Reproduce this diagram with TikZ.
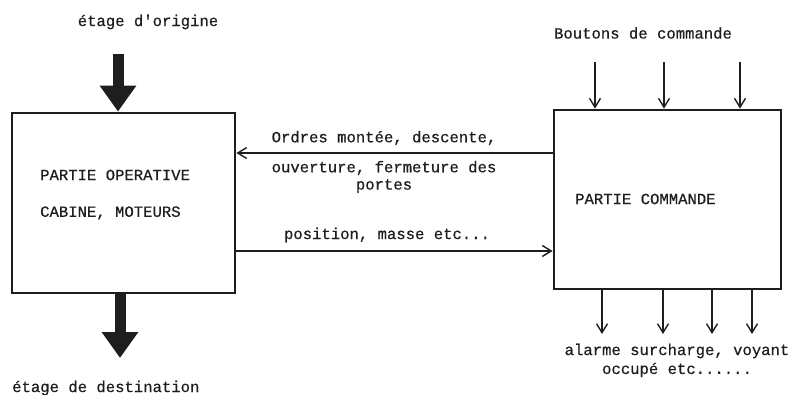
\documentclass[tikz,border=0pt]{standalone}
\usepackage{fontspec}
\setmonofont[BoldFont={Liberation Mono},BoldFeatures={FakeBold=0.5}]{Liberation Mono}
\usetikzlibrary{arrows.meta}
\definecolor{ink}{HTML}{1E1E1E}
\tikzset{
  txt/.style={font=\ttfamily\bfseries\fontsize{15.6}{18}\selectfont, text=ink, inner sep=0pt},
  box/.style={draw=ink, line width=2.8pt, fill=none, inner sep=0pt},
  thinarrow/.style={draw=ink, line width=1.4pt, -{Straight Barb[length=9pt,width=11pt,line width=1.4pt]}},
  fatarrow/.style={draw=ink, line width=11pt, -{Triangle[length=26pt,width=35pt]}},
}
\begin{document}
\begin{tikzpicture}[x=1pt,y=-1pt]
\useasboundingbox[fill=white] (0,0) rectangle (795,394);
% boxes
\node[box, minimum width=223pt, minimum height=180pt] (op) at (123.5,203) {};
\node[box, minimum width=227pt, minimum height=179pt] (cmd) at (667.5,199.5) {};
% box texts
\node[txt, anchor=west] (op1) at (40,175) {PARTIE OPERATIVE};
\node[txt, anchor=west] (op2) at (40,213) {CABINE, MOTEURS};
\node[txt, anchor=west] (cmd1) at (575,199) {PARTIE COMMANDE};
% outside labels
\node[txt] (orig) at (148,22) {étage d'origine};
\node[txt, anchor=west] (dest) at (12,388) {étage de destination};
\node[txt] (bout) at (643,33) {Boutons de commande};
\node[txt] (al1) at (677,351) {alarme surcharge, voyant};
\node[txt] (al2) at (677,370) {occupé etc......};
\node[txt] (ord1) at (384,138) {Ordres montée, descente,};
\node[txt] (ord2) at (384,168) {ouverture, fermeture des};
\node[txt] (ord3) at (384,186) {portes};
\node[txt] (pos) at (387,235) {position, masse etc...};
% fat arrows
\coordinate (origtop) at (118,54);
\draw[fatarrow] (origtop) -- (origtop |- op.north);
\coordinate (destend) at (120,358);
\draw[fatarrow] (destend |- op.south) -- (destend);
% middle arrows
\coordinate (yord) at (0,153);
\coordinate (ypos) at (0,251);
\draw[thinarrow] (cmd.west |- yord) -- (op.east |- yord);
\draw[thinarrow] (op.east |- ypos) -- (cmd.west |- ypos);
% command buttons
\foreach \x/\n in {595/b1,664/b2,740/b3}{
  \coordinate (\n) at (\x,62);
  \draw[thinarrow] (\n) -- (\n |- cmd.north);
}
% outputs
\foreach \x/\n in {602/o1,663/o2,712/o3,752/o4}{
  \coordinate (\n) at (\x,334);
  \draw[thinarrow] (\n |- cmd.south) -- (\n);
}
\end{tikzpicture}
\end{document}
